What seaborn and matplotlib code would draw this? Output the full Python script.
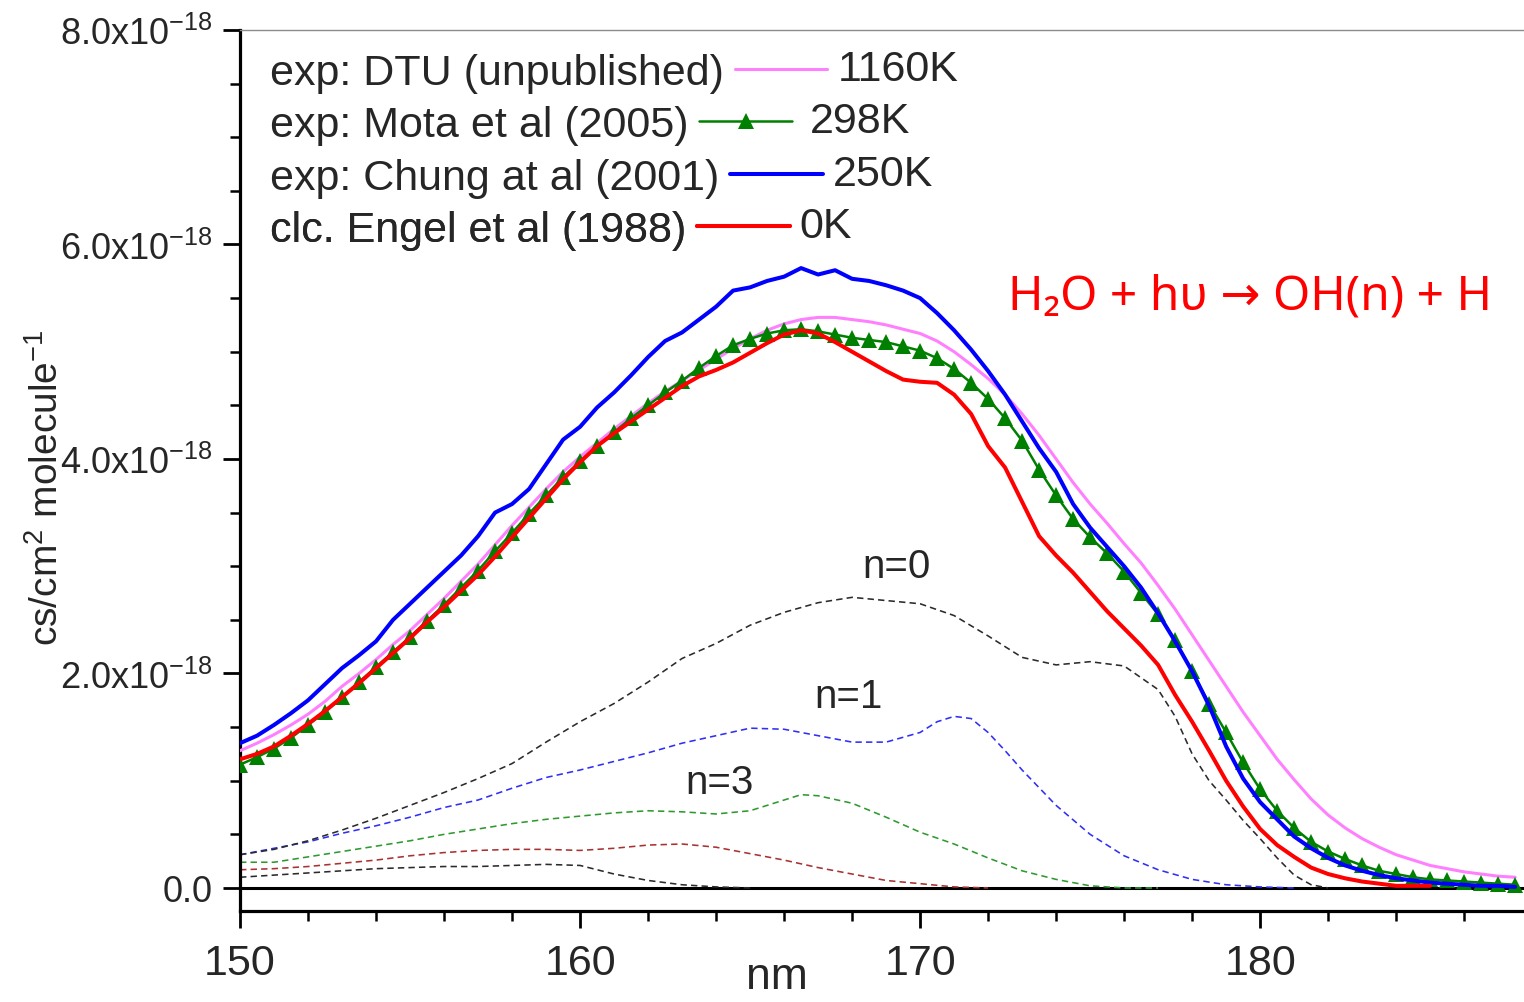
import numpy as np
import pandas as pd
import matplotlib
matplotlib.use("Agg")
import matplotlib.pyplot as plt
import seaborn as sns
from matplotlib.ticker import MultipleLocator, FuncFormatter
from matplotlib.lines import Line2D

sns.set_style("ticks")
plt.rcParams["font.family"] = ["Liberation Sans", "DejaVu Sans"]
plt.rcParams["mathtext.default"] = "regular"

# ---------------- data (cross-section in units of 1e-18 cm^2) ----------------
wl_half = np.arange(150.0, 187.51, 0.5)          # 0.5 nm grid, 150 .. 187.5

chung_250K = [1.35, 1.42, 1.52, 1.63, 1.75, 1.90, 2.05, 2.17, 2.30, 2.50,
              2.65, 2.80, 2.95, 3.10, 3.28, 3.50, 3.58, 3.72, 3.95, 4.18,
              4.30, 4.48, 4.62, 4.78, 4.95, 5.10, 5.18, 5.30, 5.42, 5.57,
              5.60, 5.66, 5.70, 5.78, 5.72, 5.76, 5.68, 5.66, 5.62, 5.57,
              5.50, 5.36, 5.20, 5.02, 4.82, 4.60, 4.35, 4.10, 3.88, 3.58,
              3.36, 3.18, 3.00, 2.80, 2.56, 2.30, 2.02, 1.70, 1.32, 1.02,
              0.80, 0.64, 0.48, 0.37, 0.28, 0.21, 0.16, 0.12, 0.09, 0.07,
              0.05, 0.04, 0.03, 0.02, 0.02, 0.01]

dtu_1160K = [1.28, 1.35, 1.43, 1.52, 1.62, 1.74, 1.88, 2.00, 2.13, 2.27,
             2.40, 2.55, 2.70, 2.86, 3.02, 3.20, 3.38, 3.55, 3.72, 3.88,
             4.02, 4.15, 4.28, 4.40, 4.52, 4.63, 4.73, 4.83, 4.93, 5.03,
             5.12, 5.20, 5.26, 5.30, 5.32, 5.32, 5.30, 5.28, 5.25, 5.21,
             5.17, 5.10, 5.00, 4.88, 4.75, 4.60, 4.42, 4.22, 4.00, 3.78,
             3.58, 3.40, 3.21, 3.03, 2.82, 2.60, 2.36, 2.12, 1.88, 1.64,
             1.42, 1.20, 1.01, 0.83, 0.68, 0.56, 0.46, 0.38, 0.31, 0.26,
             0.21, 0.18, 0.15, 0.13, 0.11, 0.10]

mota_298K = [1.15, 1.22, 1.30, 1.40, 1.52, 1.64, 1.78, 1.92, 2.06, 2.20,
             2.34, 2.49, 2.64, 2.80, 2.96, 3.14, 3.31, 3.49, 3.66, 3.83,
             3.98, 4.12, 4.25, 4.38, 4.50, 4.62, 4.73, 4.85, 4.96, 5.06,
             5.12, 5.17, 5.20, 5.21, 5.19, 5.16, 5.13, 5.11, 5.09, 5.05,
             5.01, 4.94, 4.84, 4.71, 4.56, 4.38, 4.17, 3.90, 3.66, 3.44,
             3.27, 3.12, 2.95, 2.75, 2.55, 2.31, 2.02, 1.72, 1.45, 1.17,
             0.92, 0.72, 0.56, 0.43, 0.34, 0.27, 0.21, 0.16, 0.13, 0.10,
             0.08, 0.07, 0.06, 0.05, 0.04, 0.03]

wl_engel = np.arange(150.0, 185.01, 0.5)         # 150 .. 185
engel_0K = [1.20, 1.25, 1.32, 1.42, 1.53, 1.65, 1.78, 1.91, 2.05, 2.19,
            2.33, 2.48, 2.62, 2.77, 2.92, 3.09, 3.27, 3.45, 3.63, 3.81,
            3.97, 4.12, 4.24, 4.35, 4.46, 4.57, 4.68, 4.77, 4.83, 4.90,
            4.99, 5.08, 5.16, 5.20, 5.17, 5.09, 5.00, 4.91, 4.82, 4.74,
            4.72, 4.71, 4.60, 4.42, 4.12, 3.92, 3.60, 3.28, 3.10, 2.94,
            2.76, 2.58, 2.42, 2.26, 2.08, 1.80, 1.55, 1.28, 1.00, 0.76,
            0.55, 0.40, 0.29, 0.19, 0.13, 0.09, 0.06, 0.04, 0.02, 0.02,
            0.02]

# vibrational partial cross sections (dashed)
wl_n0 = [150, 151, 152, 153, 154, 155, 156, 157, 158, 159, 160, 161, 162, 163,
         164, 165, 166, 167, 168, 169, 170, 171, 172, 173, 174, 175, 176, 177,
         177.5, 178, 178.5, 179, 179.5, 180, 180.5, 181, 181.5, 182]
n0 = [0.31, 0.36, 0.44, 0.54, 0.65, 0.77, 0.89, 1.02, 1.16, 1.36, 1.55, 1.72,
      1.92, 2.14, 2.28, 2.45, 2.57, 2.66, 2.71, 2.68, 2.65, 2.54, 2.35, 2.15,
      2.08, 2.11, 2.07, 1.85, 1.60, 1.25, 1.00, 0.82, 0.63, 0.46, 0.28, 0.12,
      0.03, 0.00]

wl_n1 = [150, 151, 152, 153, 154, 155, 156, 157, 158, 159, 160, 161, 162, 163,
         164, 165, 166, 167, 168, 169, 170, 170.5, 171, 171.5, 172, 172.5, 173,
         174, 175, 176, 177, 178, 179, 180, 181]
n1 = [0.31, 0.37, 0.43, 0.51, 0.58, 0.66, 0.75, 0.82, 0.93, 1.03, 1.10, 1.18,
      1.26, 1.35, 1.42, 1.49, 1.48, 1.42, 1.36, 1.36, 1.45, 1.55, 1.60, 1.58,
      1.45, 1.28, 1.10, 0.77, 0.50, 0.30, 0.17, 0.08, 0.03, 0.01, 0.00]

wl_n3 = [150, 151, 152, 153, 154, 155, 156, 157, 158, 159, 160, 161, 162, 163,
         164, 165, 166, 166.5, 167, 168, 169, 170, 171, 172, 173, 174, 175, 176,
         177]
n3 = [0.24, 0.24, 0.29, 0.34, 0.39, 0.44, 0.50, 0.55, 0.60, 0.64, 0.67, 0.70,
      0.72, 0.71, 0.69, 0.72, 0.82, 0.87, 0.86, 0.79, 0.66, 0.52, 0.41, 0.28,
      0.16, 0.08, 0.02, 0.00, 0.00]

wl_n4 = [150, 151, 152, 153, 154, 155, 156, 157, 158, 159, 160, 161, 162, 163,
         164, 165, 166, 167, 168, 169, 170, 171, 172]
n4 = [0.17, 0.18, 0.20, 0.23, 0.26, 0.30, 0.33, 0.35, 0.36, 0.36, 0.35, 0.37,
      0.40, 0.41, 0.38, 0.32, 0.26, 0.19, 0.13, 0.07, 0.04, 0.01, 0.00]

wl_n5 = [150, 151, 152, 153, 154, 155, 156, 157, 158, 159, 160, 160.5, 161,
         162, 163, 164, 165]
n5 = [0.10, 0.12, 0.14, 0.16, 0.18, 0.19, 0.20, 0.20, 0.21, 0.22, 0.21, 0.17,
      0.13, 0.07, 0.03, 0.01, 0.00]

series_labels = ["exp: DTU (unpublished)", "exp: Mota et al (2005)",
                 "exp: Chung at al (2001)", "clc. Engel et al (1988)"]
series_temps = ["1160K", "298K", "250K", "0K"]

# ---------------- figure ----------------
fig = plt.figure(figsize=(15.24, 10.03), dpi=100)
ax = fig.add_axes([0.1575, 0.0907, 0.8425, 0.8784])

dash = (4, 2.6)
dashed = [(wl_n5, n5, "#2b2b2b"), (wl_n4, n4, "#a83232"), (wl_n3, n3, "#2e9a2e"),
          (wl_n1, n1, "#2f2ff5"), (wl_n0, n0, "#2b2b2b")]
for xs, ys, c in dashed:
    sns.lineplot(x=xs, y=ys, ax=ax, color=c, lw=1.15, zorder=2, sort=False)
    ax.lines[-1].set_dashes(dash)

ax.axhline(0, color="black", lw=2.2, zorder=1.5)

c_dtu, c_mota, c_chung, c_engel = "#ff80ff", "#008000", "#0000ff", "#ff0000"
sns.lineplot(x=wl_half, y=dtu_1160K, ax=ax, color=c_dtu, lw=2.2, zorder=3)
sns.lineplot(x=wl_half, y=mota_298K, ax=ax, color=c_mota, lw=1.8, zorder=4,
             marker="^", markersize=11, markeredgewidth=0, markeredgecolor=c_mota)
sns.lineplot(x=wl_half, y=chung_250K, ax=ax, color=c_chung, lw=2.9, zorder=5)
sns.lineplot(x=wl_engel, y=engel_0K, ax=ax, color=c_engel, lw=2.9, zorder=6)

ax.set_xlim(150, 187.76)
ax.set_ylim(-0.215, 8.0)

# axes styling
for s in ["left", "bottom"]:
    ax.spines[s].set_linewidth(2.3)
    ax.spines[s].set_color("black")
ax.spines["right"].set_visible(False)
ax.spines["top"].set_color("#8c8c8c")
ax.spines["top"].set_linewidth(1.0)

ax.xaxis.set_major_locator(MultipleLocator(10))
ax.xaxis.set_minor_locator(MultipleLocator(2))
ax.yaxis.set_major_locator(MultipleLocator(2))
ax.yaxis.set_minor_locator(MultipleLocator(0.5))
ax.tick_params(axis="both", which="major", direction="out", length=12, width=2.0,
               color="black")
ax.tick_params(axis="both", which="minor", direction="out", length=7, width=1.8,
               color="black")
ax.tick_params(axis="x", which="major", labelsize=31, pad=11)
ax.tick_params(axis="y", which="major", labelsize=26, pad=8)

def yfmt(v, pos):
    if abs(v) < 1e-9:
        return "0.0"
    return f"{v:.1f}x10$^{{-18}}$"
ax.yaxis.set_major_formatter(FuncFormatter(yfmt))

ax.set_xlabel("nm", fontsize=32, va="baseline")
ax.xaxis.set_label_coords(0.418, -0.0875)
ax.set_ylabel("cs/cm$^2$ molecule$^{-1}$", fontsize=28)
ax.yaxis.set_label_coords(-0.136, 0.482)

# annotations
ax.text(169.3, 3.0, "n=0", fontsize=29, ha="center", va="center")
ax.text(167.9, 1.79, "n=1", fontsize=29, ha="center", va="center")
ax.text(164.1, 0.99, "n=3", fontsize=29, ha="center", va="center")
ax.text(179.7, 5.52, "H\u2082O + h\u03c5 \u2192 OH(n) + H", fontsize=34.5,
        color="#ff0000", ha="center", va="center",
        family=["Noto Sans", "DejaVu Sans"])

# legend rows: label, line sample, then temperature
handles = [Line2D([], [], color=c_dtu, lw=2.2),
           Line2D([], [], color=c_mota, lw=1.8, marker="^", markersize=11,
                  markeredgewidth=0),
           Line2D([], [], color=c_chung, lw=2.9),
           Line2D([], [], color=c_engel, lw=2.9)]
row_y = [0.9507, 0.8917, 0.8322, 0.7727]
legends = []
for h, lab, yr in zip(handles, series_labels, row_y):
    lg = ax.legend([h], [lab], loc="center left", bbox_to_anchor=(0.0234, yr),
                   markerfirst=False, frameon=False, fontsize=31,
                   handlelength=2.15, handletextpad=0.25, borderpad=0,
                   borderaxespad=0, numpoints=1)
    ax.add_artist(lg)
    legends.append(lg)

fig.canvas.draw()
renderer = fig.canvas.get_renderer()
inv = ax.transAxes.inverted()
for lg, temp in zip(legends, series_temps):
    line = lg.get_lines()[0]
    bb = line.get_window_extent(renderer)
    xd = bb.x1 + 10
    yd = 0.5 * (bb.y0 + bb.y1)
    xa, ya = inv.transform((xd, yd))
    ax.text(xa, ya, temp, transform=ax.transAxes, fontsize=31,
            ha="left", va="center")

fig.savefig("out.png", dpi=100)
